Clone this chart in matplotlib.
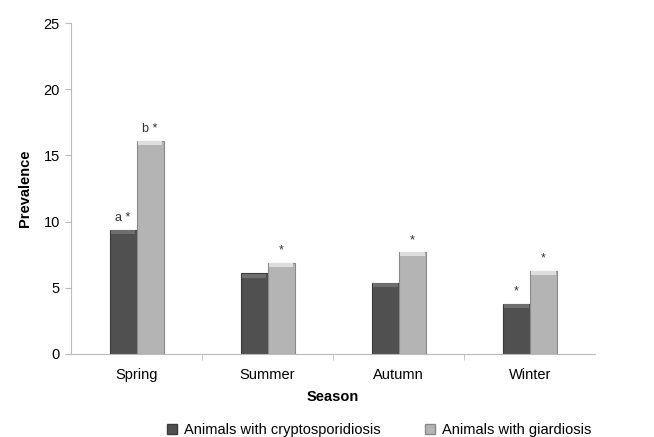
import matplotlib.pyplot as plt
import numpy as np
from matplotlib.patches import Patch

plt.rcParams['font.family'] = ['Liberation Sans', 'DejaVu Sans']

seasons = ["Spring", "Summer", "Autumn", "Winter"]
crypto = [9.4, 6.1, 5.4, 3.8]
giardia = [16.1, 6.9, 7.7, 6.3]
crypto_marks = ["a *", "", "", "*"]
giardia_marks = ["b *", "*", "*", "*"]

fig = plt.figure(figsize=(6.54, 4.37), dpi=100)
ax = fig.add_axes([0.1086, 0.19, 0.8014, 0.757])

x = np.arange(len(seasons))
w = 0.206
b1 = ax.bar(x - w / 2, crypto, w, color="#505050", edgecolor="#3a3a3a", linewidth=0.8,
            label="Animals with cryptosporidiosis")
b2 = ax.bar(x + w / 2, giardia, w, color="#b4b4b4", edgecolor="#8a8a8a", linewidth=0.8,
            label="Animals with giardiosis")

# light bevel on top of each bar
for bars, top in ((b1, "#6e6e6e"), (b2, "#dedede")):
    for r in bars:
        ax.bar(r.get_x() + r.get_width() / 2, 0.3, r.get_width() * 0.92,
               bottom=r.get_height() - 0.33, color=top, linewidth=0)

for i in range(len(seasons)):
    if crypto_marks[i]:
        ax.text(x[i] - w / 2, crypto[i] + 0.45, crypto_marks[i], ha="center", va="bottom",
                fontsize=9, color="#333333")
    ax.text(x[i] + w / 2, giardia[i] + 0.45, giardia_marks[i], ha="center", va="bottom",
            fontsize=9, color="#333333")

ax.set_xlim(-0.5, 3.5)
ax.set_ylim(0, 25)
ax.set_yticks([0, 5, 10, 15, 20, 25])
ax.set_xticks(x)
ax.set_xticklabels(seasons, fontsize=10.5)
ax.set_xticks([0.5, 1.5, 2.5], minor=True)
ax.tick_params(axis="x", which="major", length=0, pad=10)
ax.tick_params(axis="x", which="minor", length=4, color="#bbbbbb")
ax.tick_params(axis="y", length=4, color="#bbbbbb", labelsize=10.5, pad=4)

for s in ("top", "right"):
    ax.spines[s].set_visible(False)
for s in ("left", "bottom"):
    ax.spines[s].set_color("#bbbbbb")

ax.set_ylabel("Prevalence", fontsize=10.5, fontweight="bold", labelpad=8)
ax.set_xlabel("Season", fontsize=10.5, fontweight="bold", labelpad=6)

handles = [Patch(facecolor="#505050", edgecolor="#3a3a3a"),
           Patch(facecolor="#b4b4b4", edgecolor="#8a8a8a")]
fig.legend(handles, [b1.get_label(), b2.get_label()], loc="lower center",
           bbox_to_anchor=(0.58, -0.03), ncol=2, frameon=False, fontsize=10.5,
           handlelength=0.7, handleheight=0.7, columnspacing=3.0, handletextpad=0.5)

fig.savefig("out.png", dpi=100)
